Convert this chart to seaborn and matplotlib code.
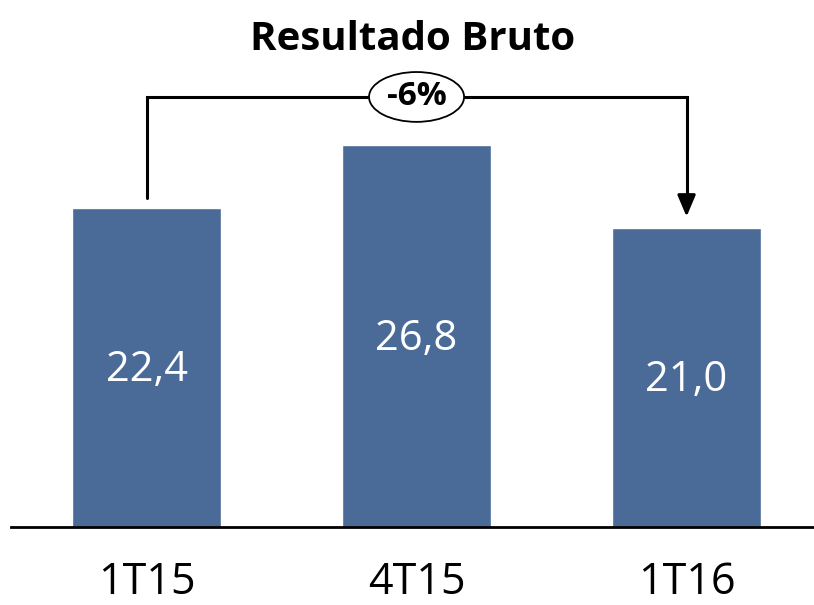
import matplotlib
matplotlib.use("Agg")
import matplotlib.pyplot as plt
import seaborn as sns
import pandas as pd
from matplotlib.patches import Ellipse

periods = ["1T15", "4T15", "1T16"]
values = [22.4, 26.8, 21.0]
labels = ["22,4", "26,8", "21,0"]
change_label = "-6%"

sns.set_style("white")
plt.rcParams['font.family'] = ['Open Sans', 'DejaVu Sans']
plt.rcParams['text.color'] = 'black'
plt.rcParams['xtick.color'] = 'black'

df = pd.DataFrame({"periodo": periods, "valor": values})

fig = plt.figure(figsize=(8.14, 6.05), dpi=100)
ax = fig.add_axes([11 / 814, 1 - 527 / 605, 1 - 11 / 814, 36 * 14.24 / 605])

sns.barplot(data=df, x="periodo", y="valor", color="#4A6A98", width=0.552,
            saturation=1, ax=ax)

ax.set_xlim(-0.502, 2.472)
ax.set_ylim(0, 36)

for i, (v, lab) in enumerate(zip(values, labels)):
    ax.text(i, v / 2 - 0.2, lab, ha="center", va="center", color="white", fontsize=30)

# bracket with arrow from first to last bar
top = 30.2
ax.plot([0, 0, 2, 2], [values[0] + 0.7, top, top, values[2] + 2.0],
        color="black", lw=2.2, solid_joinstyle="miter")
ax.annotate("", xy=(2, values[2] + 0.6), xytext=(2, values[2] + 2.2),
            arrowprops=dict(arrowstyle="-|>,head_length=1.3,head_width=0.55",
                            color="black", lw=2.2))
ax.add_patch(Ellipse((1.0, top), 0.352, 3.5, facecolor="white",
                     edgecolor="black", lw=1.3, zorder=5))
ax.text(1.0, top, change_label, ha="center", va="center", fontsize=24,
        fontweight="bold", zorder=6)

ax.set_title("Resultado Bruto", fontsize=29, fontweight="bold", pad=0, y=0.93)

ax.set_xlabel("")
ax.set_ylabel("")
ax.set_yticks([])
ax.tick_params(axis="x", length=0, labelsize=31, pad=24)
for s in ["top", "right", "left"]:
    ax.spines[s].set_visible(False)
ax.spines["bottom"].set_linewidth(2)
ax.spines["bottom"].set_color("black")

fig.savefig("out.png", dpi=100)
